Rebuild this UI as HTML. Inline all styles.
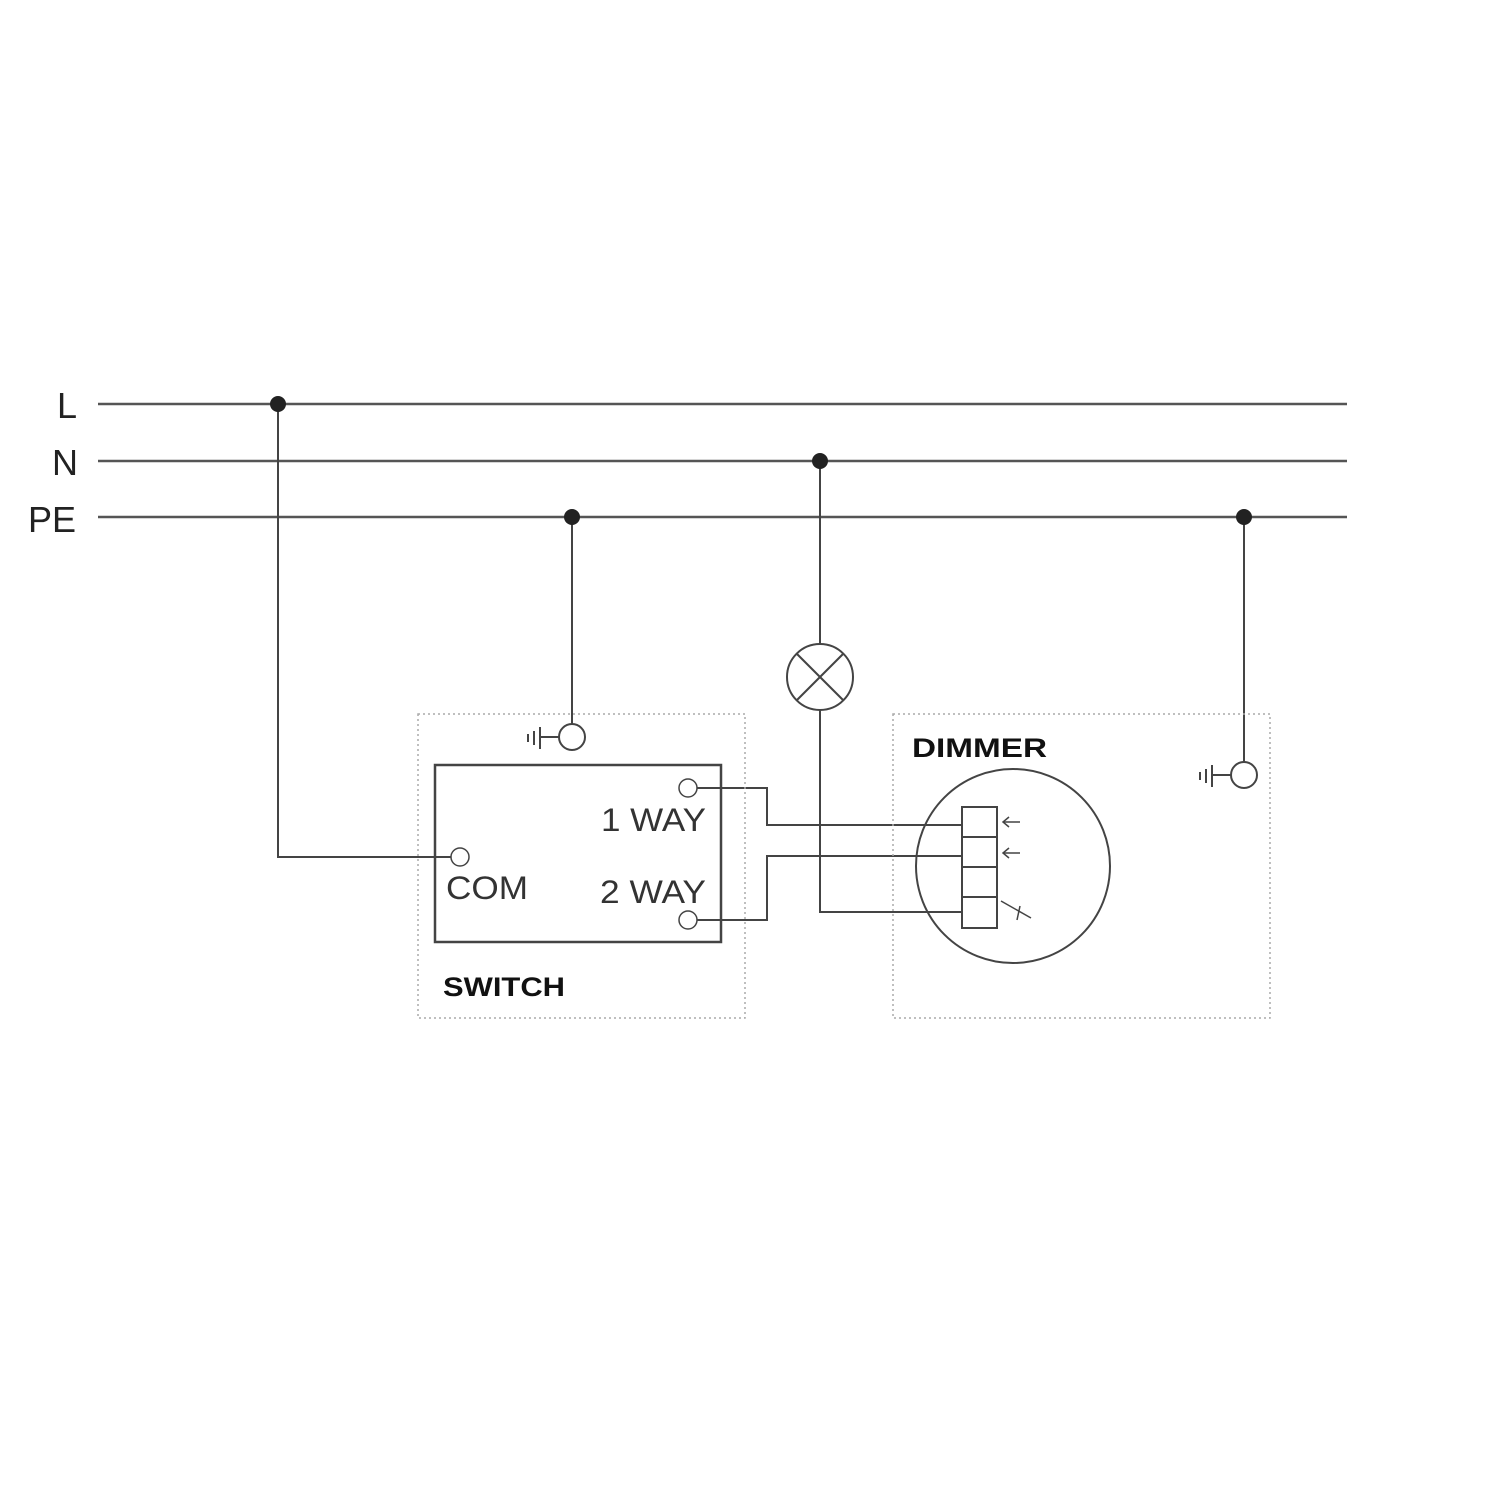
<!DOCTYPE html>
<html><head><style>body{margin:0;background:#fff}svg{display:block}</style></head><body>
<svg width="1500" height="1500" viewBox="0 0 1500 1500" xmlns="http://www.w3.org/2000/svg">
<g font-family="Liberation Sans, sans-serif" fill="#222" font-size="36">
<text x="57" y="418">L</text>
<text x="52" y="475">N</text>
<text x="28" y="532">PE</text>
</g>
<g stroke="#555" stroke-width="2.5" fill="none">
<line x1="98" y1="404" x2="1347" y2="404"/>
<line x1="98" y1="461" x2="1347" y2="461"/>
<line x1="98" y1="517" x2="1347" y2="517"/>
</g>
<g stroke="#444" stroke-width="2" fill="none">
<polyline points="278,404 278,857 451,857"/>
<line x1="572" y1="517" x2="572" y2="724"/>
<line x1="1244" y1="517" x2="1244" y2="762"/>
<line x1="820" y1="461" x2="820" y2="644"/>
<polyline points="820,710 820,912 962,912"/>
<polyline points="697,788 767,788 767,825 962,825"/>
<polyline points="697,920 767,920 767,856 962,856"/>
<circle cx="820" cy="677" r="33"/>
<line x1="797" y1="654" x2="843" y2="700"/>
<line x1="843" y1="654" x2="797" y2="700"/>
<circle cx="572" cy="737" r="13"/>
<line x1="540" y1="737" x2="559" y2="737"/>
<line x1="540" y1="727" x2="540" y2="749"/>
<line x1="534" y1="731" x2="534" y2="745"/>
<line x1="528" y1="734" x2="528" y2="742"/>
<circle cx="1244" cy="775" r="13"/>
<line x1="1212" y1="775" x2="1231" y2="775"/>
<line x1="1212" y1="765" x2="1212" y2="787"/>
<line x1="1206" y1="769" x2="1206" y2="783"/>
<line x1="1200" y1="772" x2="1200" y2="780"/>
<rect x="435" y="765" width="286" height="177" stroke-width="2.5"/>
<circle cx="460" cy="857" r="9" stroke-width="1.5"/>
<circle cx="688" cy="788" r="9" stroke-width="1.5"/>
<circle cx="688" cy="920" r="9" stroke-width="1.5"/>
<circle cx="1013" cy="866" r="97"/>
<rect x="962" y="807" width="35" height="121"/>
<line x1="962" y1="837" x2="997" y2="837"/>
<line x1="962" y1="867" x2="997" y2="867"/>
<line x1="962" y1="897" x2="997" y2="897"/>
<g stroke-width="1.5">
<line x1="1003" y1="822" x2="1020" y2="822"/><polyline points="1009,817 1003,822 1009,827"/>
<line x1="1003" y1="853" x2="1020" y2="853"/><polyline points="1009,848 1003,853 1009,858"/>
<line x1="1001" y1="901" x2="1031" y2="918"/><line x1="1020" y1="906" x2="1017" y2="920"/>
</g>
</g>
<g stroke="#aaa" stroke-width="1.5" stroke-dasharray="2,3" fill="none">
<rect x="418" y="714" width="327" height="304"/>
<rect x="893" y="714" width="377" height="304"/>
</g>
<g fill="#222">
<circle cx="278" cy="404" r="8"/>
<circle cx="820" cy="461" r="8"/>
<circle cx="572" cy="517" r="8"/>
<circle cx="1244" cy="517" r="8"/>
</g>
<g font-family="Liberation Sans, sans-serif" fill="#333" font-size="32">
<text x="601" y="831" textLength="105" lengthAdjust="spacingAndGlyphs">1 WAY</text>
<text x="600" y="903" textLength="106" lengthAdjust="spacingAndGlyphs">2 WAY</text>
<text x="446" y="899" textLength="82" lengthAdjust="spacingAndGlyphs">COM</text>
</g>
<g font-family="Liberation Sans, sans-serif" fill="#111" font-size="27" font-weight="bold">
<text x="443" y="996" textLength="122" lengthAdjust="spacingAndGlyphs">SWITCH</text>
<text x="912" y="757" textLength="135" lengthAdjust="spacingAndGlyphs">DIMMER</text>
</g>
</svg>
</body></html>
